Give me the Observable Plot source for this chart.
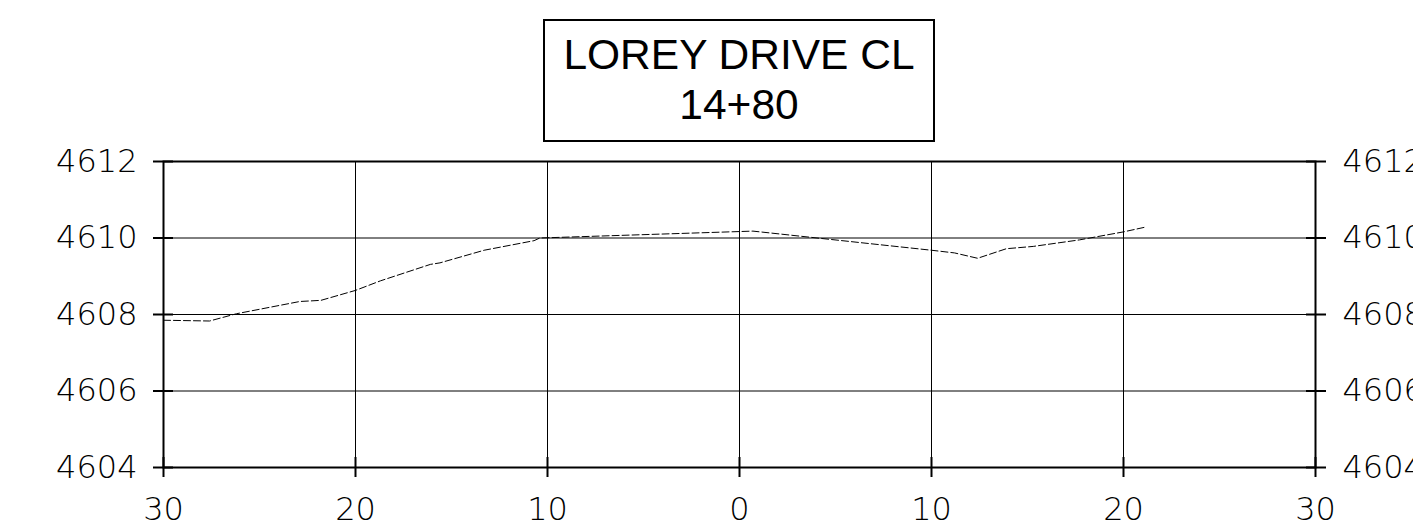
<!DOCTYPE html>
<html>
<head>
<meta charset="utf-8">
<script src="https://cdn.jsdelivr.net/npm/d3@7"></script>
<script src="https://cdn.jsdelivr.net/npm/@observablehq/plot@0.6"></script>
<style>
  html, body { margin: 0; padding: 0; background: white; overflow: hidden; }
  #title { position: relative; width: 1413px; height: 145px; }
  #box { position: absolute; left: 543px; top: 19px; width: 392px; height: 123px; box-sizing: border-box;
         border: 2px solid black; text-align: center; font-family: "Liberation Sans", Arial, sans-serif;
         font-size: 42.5px; line-height: 50px; padding-top: 9px; color: black; }
  #chart svg { display: block; }
</style>
</head>
<body>
<div id="title"><div id="box"></div></div>
<div id="chart"></div>
<script>
const titleLines = ["LOREY DRIVE CL", "14+80"];
const offsets = [-30, -27.6, -26.2, -22.9, -21.8, -20, -18.7, -16.1, -15.6, -13.3, -10.7, -10.4, 0.7, 10.0, 11.2, 12.4, 13.9, 15.3, 17.7, 20.0, 21.1];
const elevations = [4607.85, 4607.83, 4608.02, 4608.34, 4608.37, 4608.63, 4608.88, 4609.31, 4609.35, 4609.68, 4609.93, 4610.0, 4610.18, 4609.68, 4609.61, 4609.47, 4609.72, 4609.78, 4609.95, 4610.16, 4610.28];
const xTicks = [-30, -20, -10, 0, 10, 20, 30];
const yTicks = [4604, 4606, 4608, 4610, 4612];

document.getElementById("box").innerHTML = titleLines.map(t => `<div>${t}</div>`).join("");

const data = offsets.map((x, i) => ({x, y: elevations[i]}));

const chart = Plot.plot({
  width: 1413,
  height: 380,
  marginTop: 16,
  marginBottom: 58,
  marginLeft: 163,
  marginRight: 98,
  x: {domain: [-30, 30]},
  y: {domain: [4604, 4612]},
  style: {fontFamily: "DejaVu Sans", fontSize: "32px", fontWeight: 200, color: "black", background: "white", overflow: "visible"},
  marks: [
    Plot.gridX(xTicks, {stroke: "black", strokeOpacity: 1, strokeWidth: 1}),
    Plot.gridY(yTicks, {stroke: "black", strokeOpacity: 1, strokeWidth: 1}),
    Plot.frame({stroke: "black", strokeWidth: 2}),
    Plot.axisY(yTicks, {anchor: "left", tickSize: 20, dx: 10, text: null, strokeWidth: 2, label: null}),
    Plot.axisY(yTicks, {anchor: "left", tickSize: 0, tickPadding: 26, label: null, tickFormat: d => String(d)}),
    Plot.axisY(yTicks, {anchor: "right", tickSize: 20, dx: -10, text: null, strokeWidth: 2, label: null}),
    Plot.axisY(yTicks, {anchor: "right", tickSize: 0, tickPadding: 27, label: null, tickFormat: d => String(d)}),
    Plot.axisX(xTicks, {anchor: "bottom", tickSize: 20, dy: -10, text: null, strokeWidth: 2, label: null}),
    Plot.axisX(xTicks, {anchor: "bottom", tickSize: 0, tickPadding: 30, label: null, tickFormat: d => String(Math.abs(d))}),
    Plot.line(data, {x: "x", y: "y", stroke: "black", strokeWidth: 1, strokeDasharray: "7,3"})
  ]
});
document.getElementById("chart").append(chart);
</script>
</body>
</html>
